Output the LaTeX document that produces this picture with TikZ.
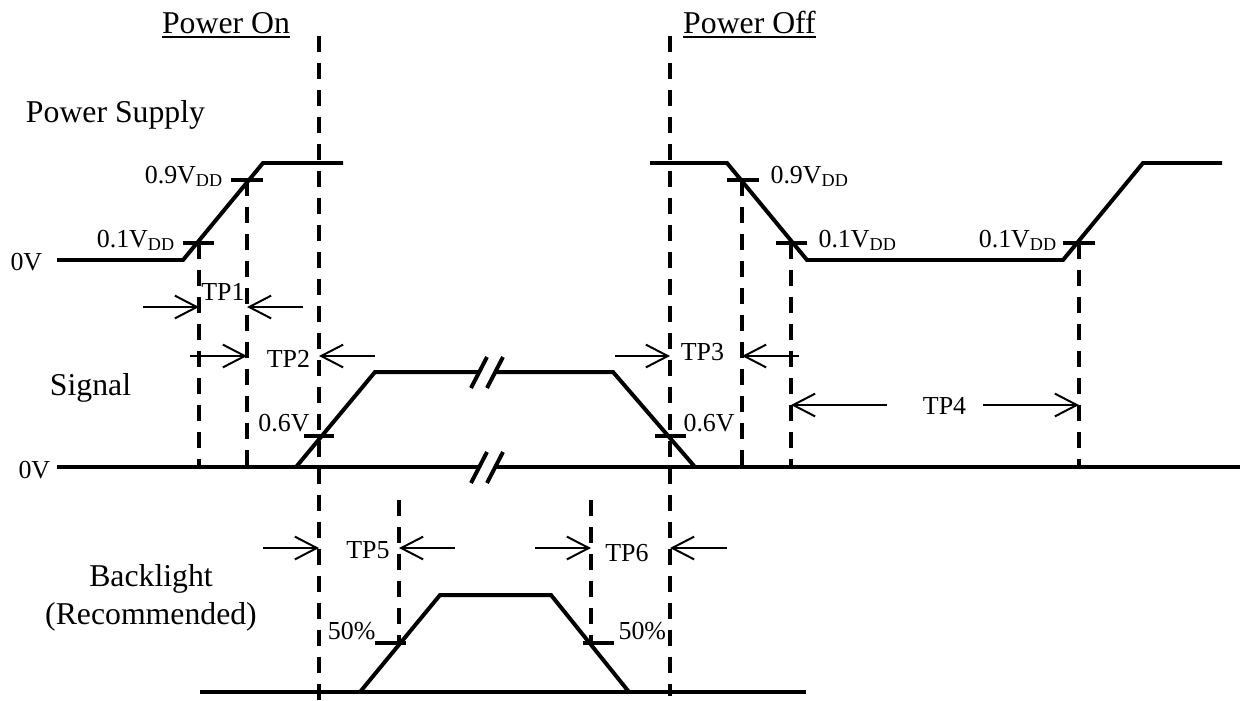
\documentclass[tikz,border=0pt]{standalone}
\usepackage{fontspec}
\setmainfont{Liberation Serif}
\usetikzlibrary{arrows.meta}

\begin{document}
\begin{tikzpicture}[x=0.378pt,y=-0.378pt,
    wave/.style={line width=1.5pt},
    guide/.style={line width=1.5pt,dash pattern=on 6.2pt off 4pt},
    dim/.style={line width=0.75pt,-{Straight Barb[length=8.3pt,width=8.6pt]}},
    lbl/.style={font=\fontsize{9.8}{11}\selectfont,inner sep=0pt},
    head/.style={font=\fontsize{12}{14}\selectfont,inner sep=0pt}]
                    \useasboundingbox (0,0) rectangle (1244,700);

                    % Marking the phases
                    \node [head,anchor=base] (on) at (226,33) {\underline{Power On}};%
                    \node [head,anchor=base] (off) at (749.5,33) {\underline{Power Off}};%

                    % Marking the rows
                    \node [head,anchor=base] (ps) at (115.5,122) {Power Supply};%
                    \node [head,anchor=base] (sig) at (90.5,395) {Signal};%
                    \node [head,anchor=base] (bl) at (151,586) {Backlight};%
                    \node [head,anchor=base] (blr) at (151,624) {(Recommended)};%

                    % Marking the levels
                    \node [lbl,anchor=base west] (ps0) at (10,270) {0V};%
                    \node [lbl,anchor=base west] (sig0) at (18,478) {0V};%
                    \node [lbl,anchor=base east] (p1a) at (176,247) {0.1V\textsubscript{DD}};%
                    \node [lbl,anchor=base east] (p9a) at (224,183) {0.9V\textsubscript{DD}};%
                    \node [lbl,anchor=base west] (p9b) at (770,183) {0.9V\textsubscript{DD}};%
                    \node [lbl,anchor=base west] (p1b) at (818,247) {0.1V\textsubscript{DD}};%
                    \node [lbl,anchor=base east] (p1c) at (1058,247) {0.1V\textsubscript{DD}};%
                    \node [lbl,anchor=base east] (s6a) at (310,431) {0.6V};%
                    \node [lbl,anchor=base west] (s6b) at (683,431) {0.6V};%
                    \node [lbl,anchor=base east] (b5a) at (376,639) {50\%};%
                    \node [lbl,anchor=base west] (b5b) at (618,639) {50\%};%

                    % Marking the times
                    \node [lbl,anchor=base] (tp1) at (223,300) {TP1};%
                    \node [lbl,anchor=base] (tp2) at (288.5,367) {TP2};%
                    \node [lbl,anchor=base] (tp3) at (702.5,360) {TP3};%
                    \node [lbl,anchor=base] (tp4) at (944.5,414) {TP4};%
                    \node [lbl,anchor=base] (tp5) at (368,558) {TP5};%
                    \node [lbl,anchor=base] (tp6) at (627,561) {TP6};%

                    % Drawing the guides
                    \draw [guide] (319,36) -- (319,700);%
                    \draw [guide] (670,36) -- (670,696);%
                    \draw [guide] (199,243) -- (199,467);%
                    \draw [guide] (247,180) -- (247,467);%
                    \draw [guide] (742,180) -- (742,467);%
                    \draw [guide] (791,243) -- (791,467);%
                    \draw [guide] (1079,243) -- (1079,467);%
                    \draw [guide] (399,500) -- (399,643);%
                    \draw [guide] (591,500) -- (591,643);%

                    % Drawing power supply
                    \draw [wave] (57,260) -- (183,260) -- (263,163) -- (343,163);%
                    \draw [wave] (650,163) -- (727,163) -- (807,260) -- (1063,260) -- (1143,163) -- (1222,163);%
                    \draw [wave] (183,243) -- (214,243);%
                    \draw [wave] (231,180) -- (263,180);%
                    \draw [wave] (727,180) -- (759,180);%
                    \draw [wave] (776,243) -- (807,243);%
                    \draw [wave] (1063,243) -- (1095,243);%

                    % Drawing signal
                    \draw [wave] (57,467) -- (479,467);%
                    \draw [wave] (495,467) -- (1240,467);%
                    \draw [wave] (296,467) -- (375,372) -- (479,372);%
                    \draw [wave] (495,372) -- (613,372) -- (695,467);%
                    \draw [wave] (304,436) -- (334,436);%
                    \draw [wave] (655,436) -- (686,436);%

                    % Marking the breaks
                    \draw [wave] (471,388) -- (487,357);%
                    \draw [wave] (487,388) -- (503,357);%
                    \draw [wave] (471,483) -- (487,452);%
                    \draw [wave] (487,483) -- (503,452);%

                    % Drawing backlight
                    \draw [wave] (200,692) -- (806,692);%
                    \draw [wave] (360,692) -- (440,595) -- (551,595) -- (629,692);%
                    \draw [wave] (375,643) -- (406,643);%
                    \draw [wave] (583,643) -- (614,643);%

                    % Drawing the time arrows
                    \draw [dim] (143,307) -- (199,307);%
                    \draw [dim] (303,307) -- (247,307);%
                    \draw [dim] (190,356) -- (247,356);%
                    \draw [dim] (375,356) -- (319,356);%
                    \draw [dim] (615,356) -- (670,356);%
                    \draw [dim] (799,356) -- (742,356);%
                    \draw [dim] (887,405) -- (791,405);%
                    \draw [dim] (983,405) -- (1079,405);%
                    \draw [dim] (263,548) -- (319,548);%
                    \draw [dim] (455,548) -- (399,548);%
                    \draw [dim] (535,548) -- (591,548);%
                    \draw [dim] (727,548) -- (670,548);%
\end{tikzpicture}
\end{document}
